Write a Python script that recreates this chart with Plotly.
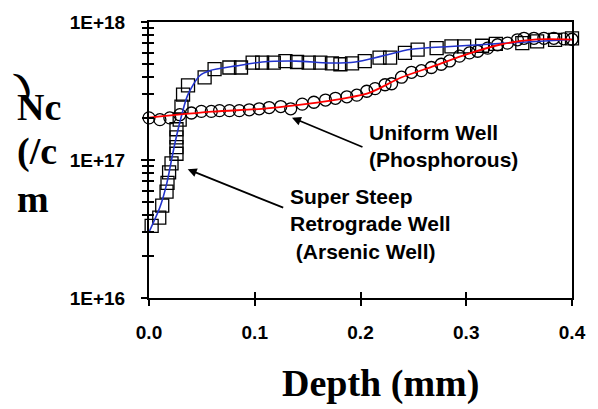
import plotly.graph_objects as go

# Measured doping profiles (markers)
arsenic_depth = [0.0025, 0.0097, 0.0125, 0.0166, 0.0175, 0.019, 0.0213, 0.026, 0.026, 0.026,
                 0.026, 0.029, 0.0307, 0.0322, 0.0369, 0.0526, 0.062, 0.076, 0.087, 0.098,
                 0.107, 0.118, 0.129, 0.140, 0.151, 0.162, 0.173, 0.181, 0.192, 0.204,
                 0.218, 0.228, 0.242, 0.254, 0.272, 0.286, 0.298, 0.315, 0.328, 0.353,
                 0.367, 0.384, 0.400]
arsenic_nc = [3.33e16, 3.82e16, 4.67e16, 5.89e16, 6.82e16, 8.13e16, 9.45e16, 1.11e17, 1.24e17, 1.46e17,
              1.67e17, 1.96e17, 2.44e17, 2.98e17, 3.47e17, 3.97e17, 4.56e17, 4.68e17, 4.68e17, 5.07e17,
              5.07e17, 5.07e17, 5.21e17, 5.13e17, 5.07e17, 5.07e17, 5.02e17, 4.94e17, 5.02e17, 5.21e17,
              5.51e17, 5.51e17, 5.97e17, 6.31e17, 6.47e17, 6.65e17, 6.65e17, 6.73e17, 6.95e17, 7.03e17,
              7.23e17, 7.43e17, 7.62e17]

phos_depth = [0.0, 0.0103, 0.0197, 0.0291, 0.0401, 0.0495, 0.0589, 0.0667, 0.0761, 0.0854,
              0.0948, 0.1042, 0.1136, 0.1246, 0.134, 0.1449, 0.1559, 0.1669, 0.1763, 0.1871,
              0.1965, 0.2059, 0.2138, 0.2232, 0.2294, 0.2388, 0.2482, 0.2576, 0.267, 0.2763,
              0.2842, 0.2936, 0.303, 0.3108, 0.3202, 0.3296, 0.339, 0.3484, 0.3546, 0.364,
              0.3734, 0.3828, 0.3922, 0.400]
phos_nc = [2.02e17, 1.96e17, 2.02e17, 2.13e17, 2.19e17, 2.25e17, 2.25e17, 2.28e17, 2.28e17, 2.28e17,
           2.31e17, 2.35e17, 2.40e17, 2.44e17, 2.35e17, 2.54e17, 2.62e17, 2.72e17, 2.80e17, 2.87e17,
           2.95e17, 3.15e17, 3.29e17, 3.51e17, 3.57e17, 3.98e17, 4.32e17, 4.44e17, 4.68e17, 4.94e17,
           5.22e17, 5.66e17, 5.97e17, 6.14e17, 6.47e17, 6.84e17, 7.03e17, 7.43e17, 7.62e17, 7.62e17,
           7.62e17, 7.62e17, 7.55e17, 7.50e17]

# Simulated profiles (lines)
arsenic_sim_depth = [0.0, 0.0103, 0.0169, 0.0216, 0.0254, 0.031, 0.0366, 0.0479, 0.0573, 0.0826,
                     0.107, 0.139, 0.17, 0.195, 0.22, 0.248, 0.285, 0.317, 0.348, 0.400]
arsenic_sim_nc = [3.0e16, 4.54e16, 6.8e16, 1.03e17, 1.42e17, 2.13e17, 2.95e17, 4.08e17, 4.44e17, 4.81e17,
                  5.13e17, 5.21e17, 5.05e17, 5.13e17, 5.66e17, 6.34e17, 6.65e17, 6.87e17, 7.1e17, 7.47e17]

phos_sim_depth = [0.0, 0.06, 0.107, 0.142, 0.17, 0.2075, 0.2385, 0.27, 0.301, 0.3325, 0.364, 0.400]
phos_sim_nc = [2.03e17, 2.24e17, 2.35e17, 2.51e17, 2.68e17, 3.05e17, 3.96e17, 4.81e17, 5.85e17, 6.87e17,
               7.46e17, 7.46e17]

x_ticks = [0.0, 0.1, 0.2, 0.3, 0.4]
x_tick_text = ["0.0", "0.1", "0.2", "0.3", "0.4"]
y_ticks = [1e16, 1e17, 1e18]
y_tick_text = ["1E+16", "1E+17", "1E+18"]
y_minor = [k * 10.0 ** e for e in (16, 17) for k in range(2, 10)]

W, H = 598, 409
L, R, T, B = 149, 23, 15, 111
PW, PH = W - L - R, H - T - B


def px(xp):
    return (xp - L) / PW


def py(yp):
    return (H - B - yp) / PH


tick_font = dict(family="Liberation Sans, Arial", size=19, color="black")
serif = dict(family="Liberation Serif, Times New Roman", size=38, color="black")
label_font = dict(family="Liberation Sans, Arial", size=21, color="black")


def bold(s):
    return "<b>" + s + "</b>"


fig = go.Figure()

fig.add_trace(go.Scatter(x=arsenic_depth, y=arsenic_nc, mode="markers", cliponaxis=False,
                         marker=dict(symbol="square-open", size=13, color="black",
                                     line=dict(width=1.3, color="black")),
                         showlegend=False))
fig.add_trace(go.Scatter(x=phos_depth, y=phos_nc, mode="markers", cliponaxis=False,
                         marker=dict(symbol="circle-open", size=12, color="black",
                                     line=dict(width=1.3, color="black")),
                         showlegend=False))
fig.add_trace(go.Scatter(x=arsenic_sim_depth, y=arsenic_sim_nc, mode="lines",
                         line=dict(color="#2233cc", width=1.6, shape="spline", smoothing=0.8),
                         showlegend=False))
fig.add_trace(go.Scatter(x=phos_sim_depth, y=phos_sim_nc, mode="lines",
                         line=dict(color="#ff0000", width=1.8, shape="spline", smoothing=0.8),
                         showlegend=False))
# empty trace so the overlay axes (inner half of crossing ticks) get drawn
fig.add_trace(go.Scatter(x=[], y=[], xaxis="x2", yaxis="y2", showlegend=False, hoverinfo="skip"))

fig.update_layout(
    width=W, height=H,
    margin=dict(l=L, r=R, t=T, b=B),
    paper_bgcolor="white", plot_bgcolor="white",
    xaxis=dict(range=[0, 0.4], tickvals=x_ticks, ticktext=[bold(t) for t in x_tick_text],
               ticks="outside", ticklen=6, tickwidth=1.5, tickcolor="black", showline=True,
               linewidth=2, linecolor="black", mirror=True, showgrid=False, zeroline=False,
               tickfont=tick_font, ticklabelstandoff=10),
    yaxis=dict(type="log", range=[16, 18], tickvals=y_ticks,
               ticktext=[bold(t) for t in y_tick_text],
               ticks="outside", ticklen=6, tickwidth=1.5, tickcolor="black",
               minor=dict(tickvals=y_minor, ticks="outside", ticklen=5, tickwidth=1.5,
                          tickcolor="black", showgrid=False),
               showline=True, linewidth=2, linecolor="black", mirror=True, showgrid=False,
               zeroline=False, tickfont=tick_font, ticklabelstandoff=12),
    xaxis2=dict(overlaying="x", side="bottom", range=[0, 0.4], tickvals=x_ticks,
                ticks="inside", ticklen=6, tickwidth=1.5, tickcolor="black",
                showticklabels=False, showline=False, showgrid=False, zeroline=False),
    yaxis2=dict(overlaying="y", side="left", type="log", range=[16, 18], tickvals=y_ticks,
                ticks="inside", ticklen=6, tickwidth=1.5, tickcolor="black",
                minor=dict(tickvals=y_minor, ticks="inside", ticklen=5, tickwidth=1.5,
                           tickcolor="black", showgrid=False),
                showticklabels=False, showline=False, showgrid=False, zeroline=False),
)

annotations = [
    # axis titles
    dict(text=bold("Depth (mm)"), x=px(382), y=py(386), xref="paper", yref="paper",
         showarrow=False, font=serif, xanchor="center", yanchor="middle"),
    dict(text=bold(")"), x=px(22), y=py(78), xref="paper", yref="paper", textangle=-25,
         showarrow=False, font=dict(serif, size=34), xanchor="center", yanchor="middle"),
    dict(text=bold("Nc"), x=px(14), y=py(102), xref="paper", yref="paper",
         showarrow=False, font=serif, xanchor="left", yanchor="middle"),
    dict(text=bold("(/c"), x=px(14), y=py(148), xref="paper", yref="paper",
         showarrow=False, font=serif, xanchor="left", yanchor="middle"),
    dict(text=bold("m"), x=px(14), y=py(196), xref="paper", yref="paper",
         showarrow=False, font=serif, xanchor="left", yanchor="middle"),
    # callouts
    dict(text=bold("Uniform Well<br>(Phosphorous)"), x=px(369), y=py(142), xref="paper",
         yref="paper", showarrow=False, font=label_font, xanchor="left", yanchor="middle",
         align="left"),
    dict(text=bold("Super Steep<br>Retrograde Well<br>\u00a0(Arsenic Well)"), x=px(289), y=py(222),
         xref="paper", yref="paper", showarrow=False, font=label_font,
         xanchor="left", yanchor="middle", align="left"),
    dict(text="", x=0.1352, y=17.307, xref="x", yref="y", showarrow=True, ax=72, ay=30,
         arrowhead=2, arrowsize=1, arrowwidth=1.8, arrowcolor="black", standoff=0),
    dict(text="", x=0.0366, y=16.933, xref="x", yref="y", showarrow=True, ax=97, ay=39,
         arrowhead=2, arrowsize=1, arrowwidth=1.8, arrowcolor="black", standoff=0),
]
fig.update_layout(annotations=annotations)

fig.write_html("out.html")
